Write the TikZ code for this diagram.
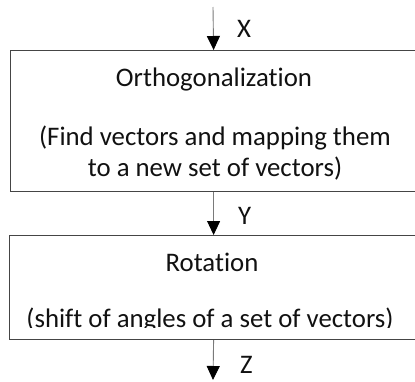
\documentclass[tikz,border=0pt]{standalone}
\usepackage{fontspec}
\setmainfont{Carlito}[Ligatures=NoCommon]
\usetikzlibrary{arrows.meta, positioning}

\definecolor{boxgray}{HTML}{454545}
\definecolor{arrowgray}{HTML}{7A7A7A}
\definecolor{textblack}{HTML}{111111}

\begin{document}
\begin{tikzpicture}[x=1pt,y=-1pt,
    stagebox/.style={draw=boxgray, line width=1.2pt, inner sep=0pt,
        anchor=north west},
    flowarrow/.style={draw=arrowgray, line width=0.9pt,
        -{Triangle[length=14pt,width=13pt,black]}},
    boxtext/.style={font=\fontsize{26.8}{31}\selectfont, text=textblack,
        inner sep=0pt, anchor=base},
    sigtext/.style={font=\fontsize{26.8}{31}\selectfont, text=textblack,
        inner sep=0pt, anchor=base west}]
\useasboundingbox (0,0) rectangle (415,381);

\coordinate (xin) at (213,7);
\coordinate (zout) at (213,380);

% Boxes
\node[stagebox, minimum width=406pt, minimum height=141pt] (ortho) at (10,50) {};
\node[stagebox, minimum width=408pt, minimum height=104pt] (rot) at (9,235) {};

% Texts of the first box
\node[boxtext] (orthotitle) at (214,86) {Orthogonalization};
\node[boxtext] (ortholine1) at (215,145) {(Find vectors and mapping them};
\node[boxtext] (ortholine2) at (215,176) {to a new set of vectors)};

% Texts of the second box, cut off at the bottom
\node[boxtext] (rottitle) at (212,271) {Rotation};
\begin{scope}
\clip (9,235) rectangle (420,327.7);
\node[boxtext] (rotline) at (210,327) {(shift of angles of a set of vectors)};
\end{scope}

% Signals between the stages
\draw[flowarrow] (xin) -- (ortho.north);
\draw[flowarrow] (ortho.south) -- (rot.north);
\draw[flowarrow] (rot.south) -- (zout);
\node[sigtext] (sigx) at (237,37) {X};
\node[sigtext] (sigy) at (238,224) {Y};
\node[sigtext] (sigz) at (240,373) {Z};
\end{tikzpicture}
\end{document}
